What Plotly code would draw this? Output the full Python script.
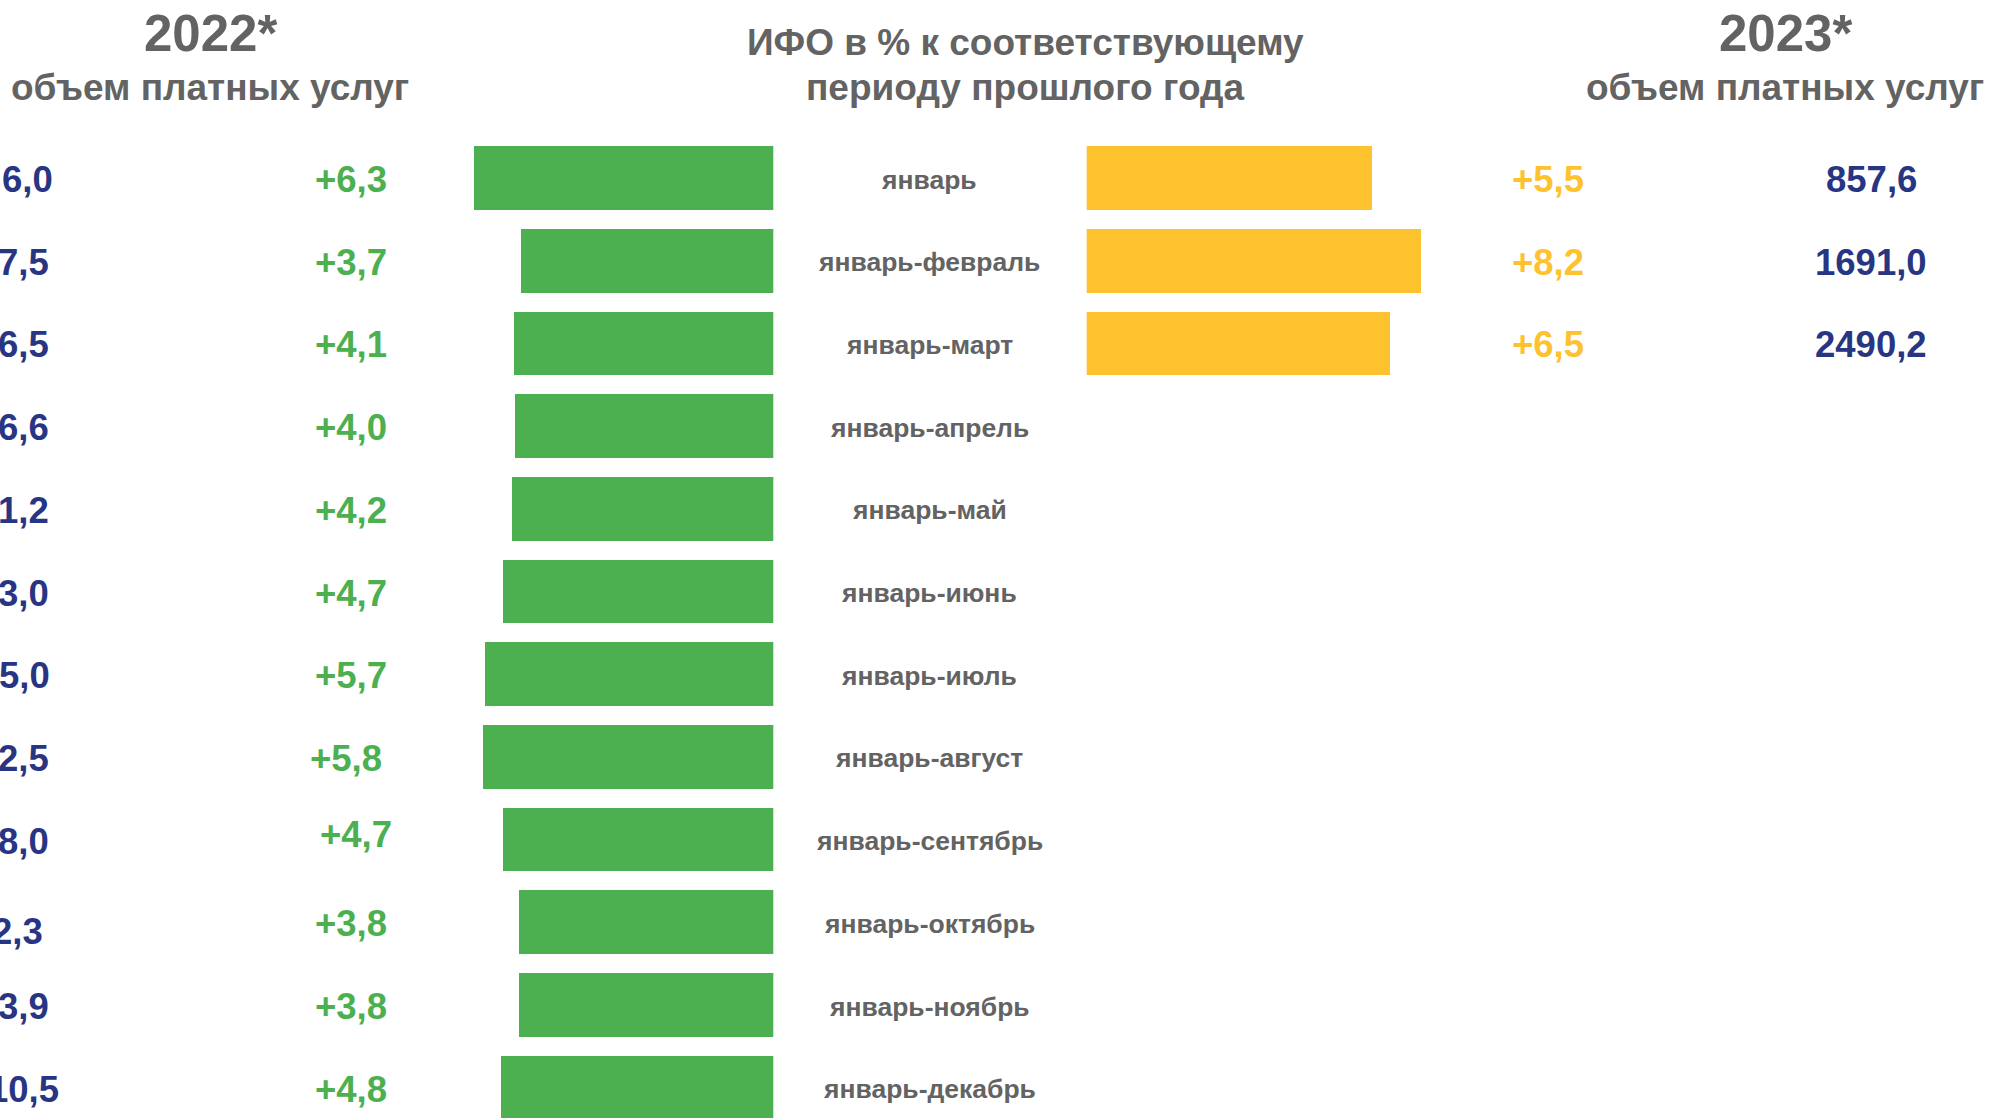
import plotly.graph_objects as go

W, H = 1990, 1118

periods = [
    "январь", "январь-февраль", "январь-март", "январь-апрель", "январь-май",
    "январь-июнь", "январь-июль", "январь-август", "январь-сентябрь",
    "январь-октябрь", "январь-ноябрь", "январь-декабрь",
]
# ИФО, прирост к прошлому году, %
growth_2022 = [6.3, 3.7, 4.1, 4.0, 4.2, 4.7, 5.7, 5.8, 4.7, 3.8, 3.8, 4.8]
growth_2023 = [5.5, 8.2, 6.5]
# объем платных услуг 2022 — в исходнике обрезан левым краем, видны только хвосты
volume_2022_tail = ["6,0", "7,5", "6,5", "6,6", "1,2", "3,0", "5,0", "2,5", "8,0", "2,3", "3,9", "10,5"]
volume_2023 = [857.6, 1691.0, 2490.2]

GREEN = "#4caf50"
YELLOW = "#fec22f"
BLUE = "#283583"
GRAY = "#636363"
FONT = "Liberation Sans, Arial, sans-serif"

# scale of the bars: 18.1 px per percentage point, cut at 89.75 %
PX_PER_UNIT = 18.1
AXIS_START = 89.75
GREEN_RIGHT = 773.3
YELLOW_LEFT = 1086.7
ROW0, ROW_STEP = 178.0, 82.7


def fmt(v, sign=False):
    s = f"{v:+.1f}" if sign else f"{v:.1f}"
    return s.replace(".", ",")


rows = list(range(len(periods)))

fig = go.Figure()
fig.add_trace(go.Bar(
    y=rows, x=[100 + g for g in growth_2022], orientation="h",
    marker=dict(color=GREEN, line=dict(width=0)), width=0.77,
    xaxis="x", yaxis="y", hoverinfo="skip",
))
fig.add_trace(go.Bar(
    y=rows[:len(growth_2023)], x=[100 + g for g in growth_2023], orientation="h",
    marker=dict(color=YELLOW, line=dict(width=0)), width=0.77,
    xaxis="x2", yaxis="y", hoverinfo="skip",
))

ann = []


def text(x_px, y, s, color, size, anchor="center", yref="y", shift=-1.5):
    ann.append(dict(
        x=x_px / W, xref="paper", y=y, yref=yref, text=s, showarrow=False,
        xanchor=anchor, yanchor="middle", yshift=shift,
        font=dict(family=FONT, size=size, color=color, weight="bold"),
    ))


# row nudges seen in the source layout
green_dx = {7: -5, 8: 5}
green_dy = {8: -0.08}
blue_dy = {9: 0.09}
blue_right = [54.6, 51, 51, 51, 51, 51, 52, 51, 51, 45, 51, 61]

for i, p in enumerate(periods):
    text(929, i, p, GRAY, 26.5)
    text(351 + green_dx.get(i, 0), i + green_dy.get(i, 0), fmt(growth_2022[i], True), GREEN, 36.5)
    text(blue_right[i], i + blue_dy.get(i, 0), volume_2022_tail[i], BLUE, 36.5, anchor="right")

for i, g in enumerate(growth_2023):
    text(1548, i, fmt(g, True), YELLOW, 36.5)
    text(1871, i, fmt(volume_2023[i]), BLUE, 36.5)

# headers
text(210, 1 - 34 / H, "2022*", GRAY, 51, yref="paper", shift=0)
text(210, 1 - 87 / H, "объем платных услуг", GRAY, 37, yref="paper", shift=0)
text(1785, 1 - 34 / H, "2023*", GRAY, 51, yref="paper", shift=0)
text(1785, 1 - 87 / H, "объем платных услуг", GRAY, 37, yref="paper", shift=0)
text(1025, 1 - 42 / H, "ИФО в % к соответствующему", GRAY, 37, yref="paper", shift=0)
text(1025, 1 - 87 / H, "периоду прошлого года", GRAY, 37, yref="paper", shift=0)

green_span = GREEN_RIGHT / PX_PER_UNIT
yellow_span = (W - YELLOW_LEFT) / PX_PER_UNIT
y_top = -ROW0 / ROW_STEP
y_bot = (H - ROW0) / ROW_STEP

fig.update_layout(
    width=W, height=H, margin=dict(l=0, r=0, t=0, b=0),
    paper_bgcolor="white", plot_bgcolor="rgba(0,0,0,0)",
    showlegend=False, bargap=0,
    annotations=ann,
    xaxis=dict(domain=[0, GREEN_RIGHT / W], range=[AXIS_START + green_span, AXIS_START],
               visible=False, fixedrange=True),
    xaxis2=dict(domain=[YELLOW_LEFT / W, 1], range=[AXIS_START, AXIS_START + yellow_span],
                anchor="y", visible=False, fixedrange=True),
    yaxis=dict(range=[y_bot, y_top], visible=False, fixedrange=True),
)

fig.write_html(
    "out.html",
    config={"displayModeBar": False},
    post_script="document.body.style.margin='0';document.body.style.overflow='hidden';",
)
